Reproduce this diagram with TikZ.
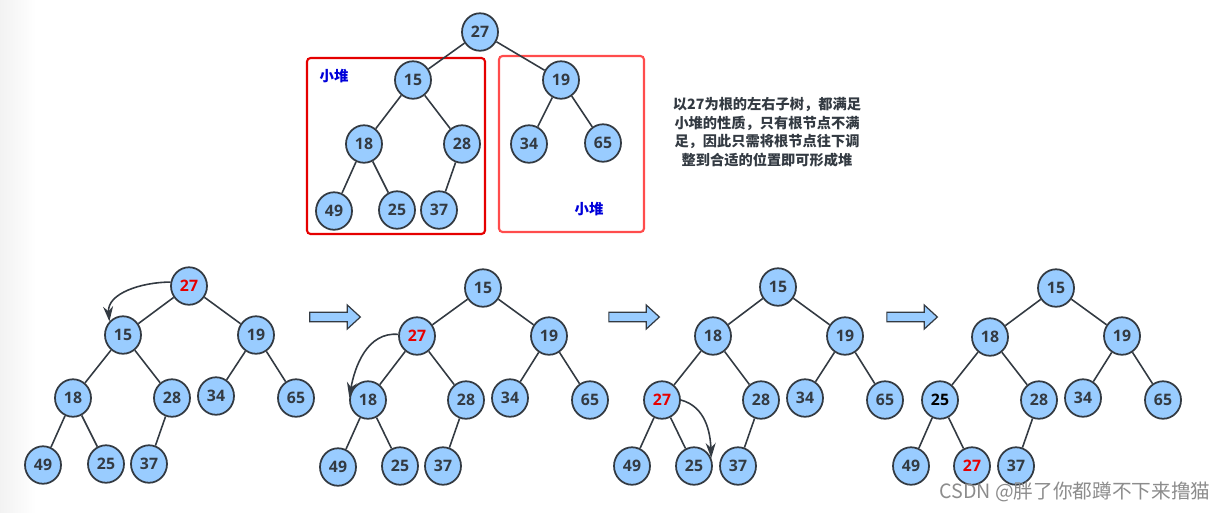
\documentclass[tikz,border=0pt]{standalone}
\usepackage{fontspec}
\setmainfont{Open Sans}
\newfontfamily\cjk{Noto Sans CJK SC}
\usepackage{tikz}
\usetikzlibrary{%
  shapes.geometric,%
  shapes.arrows,%
  arrows.meta%
}
\definecolor{heapblue}{HTML}{99CCFF}
\definecolor{heapline}{HTML}{333A42}
\tikzset{
  heapnode/.style={ellipse, draw=heapline, line width=1pt, fill=heapblue, text=heapline,
    minimum width=0.72cm, minimum height=0.75cm, inner sep=0pt, font=\fontsize{9}{9}\selectfont\bfseries},
  hotnode/.style={heapnode, text=red!90!black},
  heapedge/.style={draw=heapline, line width=0.9pt},
  moveedge/.style={draw=heapline, line width=0.9pt, -{Stealth[length=0.30cm, width=0.20cm]}},
  stepnode/.style={single arrow, draw=heapline, line width=0.7pt, fill=heapblue, minimum height=1.01cm,
    minimum width=0.48cm, inner sep=0.08cm, single arrow head extend=0.14cm, single arrow tip angle=85},
  heaplabel/.style={text=blue!85!black, font=\cjk\fontsize{8.2}{9}\selectfont\bfseries},
  noteline/.style={text=heapline, align=center, font=\cjk\fontsize{8.1}{10.6}\selectfont\bfseries}
}

\begin{document}
\begin{tikzpicture}[x=0.02cm, y=-0.02cm]
\useasboundingbox (0,0) rectangle (1226,512);
\fill[left color=black!5, right color=white] (0,0) rectangle (36,512);

% boxes around the two subtrees
\node[draw=red!90!black, line width=1.2pt, rounded corners=2pt, minimum width=3.56cm, minimum height=3.52cm, inner sep=0pt] (boxL) at (396,146) {};
\node[draw=red!70!white, line width=1.2pt, rounded corners=2pt, minimum width=2.90cm, minimum height=3.52cm, inner sep=0pt] (boxR) at (571.5,144) {};
\node[heaplabel] (labelL) at (334,76) {小堆};
\node[heaplabel] (labelR) at (589,209) {小堆};
\node[noteline] (note) at (767,132) {以27为根的左右子树，都满足\\小堆的性质，只有根节点不满\\足，因此只需将根节点往下调\\整到合适的位置即可形成堆};

% top tree
\node[heapnode] (a27) at (480,32) {27};
\node[heapnode] (a15) at (413,80) {15};
\node[heapnode] (a19) at (561,80) {19};
\node[heapnode] (a18) at (364,144) {18};
\node[heapnode] (a28) at (462,144) {28};
\node[heapnode] (a34) at (529,144) {34};
\node[heapnode] (a65) at (603,143) {65};
\node[heapnode] (a49) at (334,211) {49};
\node[heapnode] (a25) at (397,210) {25};
\node[heapnode] (a37) at (439,210) {37};

\draw[heapedge]
	(a27) edge (a15)
	(a27) edge (a19)
	(a15) edge (a18)
	(a15) edge (a28)
	(a19) edge (a34)
	(a19) edge (a65)
	(a18) edge (a49)
	(a18) edge (a25)
	(a28) edge (a37)
;

% first step
\node[hotnode] (b27) at (189,286) {27};
\node[heapnode] (b15) at (123,335) {15};
\node[heapnode] (b19) at (256,335) {19};
\node[heapnode] (b18) at (73,398) {18};
\node[heapnode] (b28) at (172,398) {28};
\node[heapnode] (b34) at (216,396) {34};
\node[heapnode] (b65) at (296,398) {65};
\node[heapnode] (b49) at (43,465) {49};
\node[heapnode] (b25) at (106,464) {25};
\node[heapnode] (b37) at (149,464) {37};

\draw[heapedge]
	(b27) edge (b15)
	(b27) edge (b19)
	(b15) edge (b18)
	(b15) edge (b28)
	(b19) edge (b34)
	(b19) edge (b65)
	(b18) edge (b49)
	(b18) edge (b25)
	(b28) edge (b37)
;
\draw[moveedge] (b27.168) to[out=180, in=95] (b15.135);

% second step
\node[heapnode] (c15) at (483,288) {15};
\node[hotnode] (c27) at (417,336) {27};
\node[heapnode] (c19) at (549,336) {19};
\node[heapnode] (c18) at (368,400) {18};
\node[heapnode] (c28) at (466,400) {28};
\node[heapnode] (c34) at (510,398) {34};
\node[heapnode] (c65) at (590,400) {65};
\node[heapnode] (c49) at (338,467) {49};
\node[heapnode] (c25) at (400,466) {25};
\node[heapnode] (c37) at (443,466) {37};

\draw[heapedge]
	(c15) edge (c27)
	(c15) edge (c19)
	(c27) edge (c18)
	(c27) edge (c28)
	(c19) edge (c34)
	(c19) edge (c65)
	(c18) edge (c49)
	(c18) edge (c25)
	(c28) edge (c37)
;
\draw[moveedge] (c27.175) to[out=175, in=80] (c18.172);

% third step
\node[heapnode] (d15) at (778,287) {15};
\node[heapnode] (d18) at (713,336) {18};
\node[heapnode] (d19) at (845,336) {19};
\node[hotnode] (d27) at (662,400) {27};
\node[heapnode] (d28) at (761,400) {28};
\node[heapnode] (d34) at (805,398) {34};
\node[heapnode] (d65) at (885,400) {65};
\node[heapnode] (d49) at (632,466) {49};
\node[heapnode] (d25) at (694,466) {25};
\node[heapnode] (d37) at (738,466) {37};

\draw[heapedge]
	(d15) edge (d18)
	(d15) edge (d19)
	(d18) edge (d27)
	(d18) edge (d28)
	(d19) edge (d34)
	(d19) edge (d65)
	(d27) edge (d49)
	(d27) edge (d25)
	(d28) edge (d37)
;
\draw[moveedge] (d27.0) to[out=-15, in=92] (d25.25);

% last step
\node[heapnode] (e15) at (1056,288) {15};
\node[heapnode] (e18) at (990,337) {18};
\node[heapnode] (e19) at (1122,336) {19};
\node[heapnode] (e25) at (940,400) {\textcolor{black}{25}};
\node[heapnode] (e28) at (1039,400) {28};
\node[heapnode] (e34) at (1083,398) {34};
\node[heapnode] (e65) at (1163,400) {65};
\node[heapnode] (e49) at (911,466) {49};
\node[hotnode] (e27) at (972,466) {27};
\node[heapnode] (e37) at (1016,466) {37};

\draw[heapedge]
	(e15) edge (e18)
	(e15) edge (e19)
	(e18) edge (e25)
	(e18) edge (e28)
	(e19) edge (e34)
	(e19) edge (e65)
	(e25) edge (e49)
	(e25) edge (e27)
	(e28) edge (e37)
;

% arrows between the steps
\node[stepnode] (step1) at (332.5,317) {};
\node[stepnode] (step2) at (631.5,317) {};
\node[stepnode] (step3) at (909.5,317) {};

\node[text=black!45, font=\cjk\fontsize{11.2}{12}\selectfont, inner sep=0pt] (mark) at (1075,492) {CSDN @胖了你都蹲不下来撸猫};
\end{tikzpicture}
\end{document}
